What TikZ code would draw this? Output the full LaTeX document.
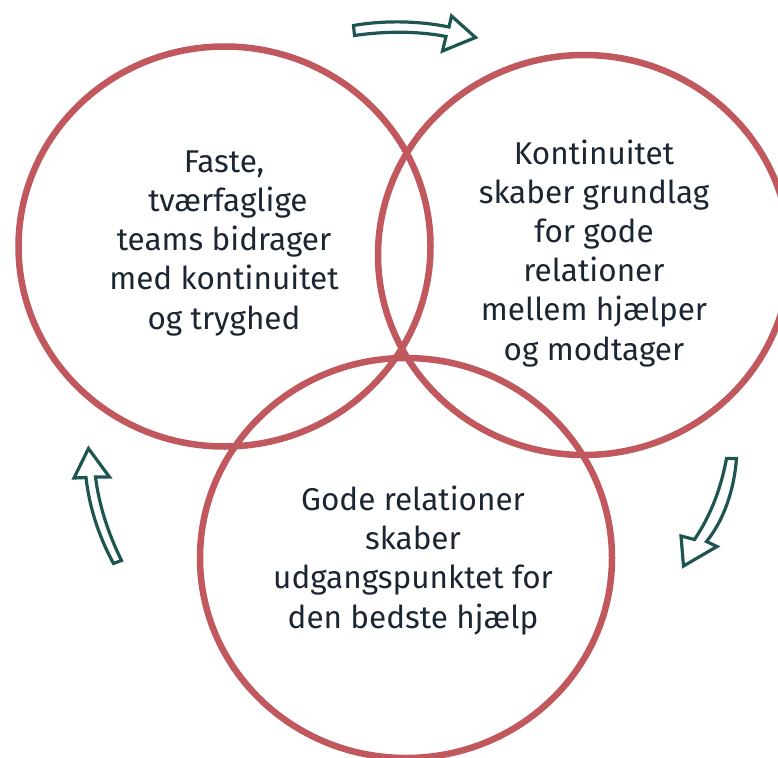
\documentclass[tikz,border=0pt]{standalone}
\usepackage{fontspec}
\setmainfont{Fira Sans}
\definecolor{ring}{HTML}{C0585E}
\definecolor{teal}{HTML}{1E5550}
\definecolor{ink}{HTML}{1C2633}
\begin{document}
\begin{tikzpicture}[x=1pt,y=-1pt,
  ring/.style={draw=ring,line width=6.5pt},
  label/.style={text=ink,align=center,anchor=base,inner sep=0pt,font=\fontsize{31.5}{39.2}\selectfont},
  blockarrow/.style={draw=teal,fill=white,line width=3.2pt,line join=miter}]
\useasboundingbox (0,0) rectangle (778,757);
\clip (0,0) rectangle (778,757);
\draw[ring] (224.5,246.5) ellipse [x radius=206,y radius=200];
\draw[ring] (584,255) ellipse [x radius=206,y radius=200];
\draw[ring] (406,558) ellipse [x radius=206,y radius=200];
\node[label] (t1) at (224,329) {Faste,\\\hspace*{0.25em}tværfaglige\\teams bidrager\\med kontinuitet\\og tryghed};
\node[label] (t2) at (594,360) {Kontinuitet\\skaber grundlag\\for gode\\relationer\\mellem hjælper\\og modtager};
\node[label] (t3) at (413,628) {Gode relationer\\skaber\\udgangspunktet for\\den bedste hjælp};
% top arrow
\draw[blockarrow] (353.5,25.5) .. controls (385,20) and (420,21) .. (449,27)
  -- (451.5,16) -- (475.5,37.5) -- (442.5,51) -- (446,36.5)
  .. controls (418,31) and (385,31) .. (354.5,35.5) -- cycle;
% right arrow
\draw[blockarrow] (726.5,458.5) -- (736.5,458.5) .. controls (734,490) and (724,520) .. (706.5,541.5)
  -- (717,546.5) -- (683.5,566) -- (681,536) -- (694.5,539.5)
  .. controls (711,515) and (721,488) .. (726.5,458.5) -- cycle;
% left arrow
\draw[blockarrow] (113.5,563.5) .. controls (98,535) and (89,505) .. (86,477.5)
  -- (74,478) -- (88.5,448.5) -- (109.5,477) -- (95.5,477)
  .. controls (99,505) and (108,533) .. (121.5,560.5) -- cycle;
\end{tikzpicture}
\end{document}
